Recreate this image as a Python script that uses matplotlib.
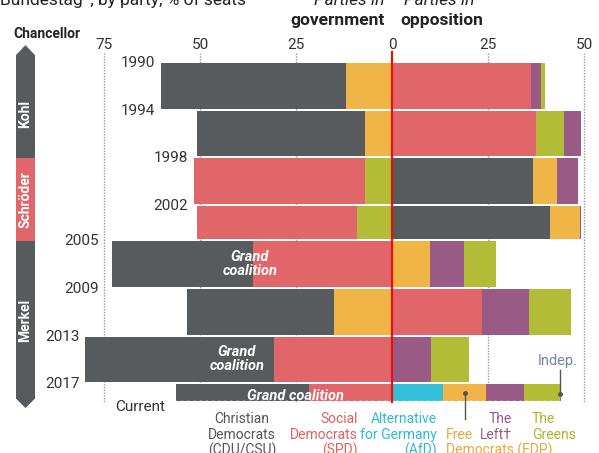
import matplotlib
matplotlib.use('Agg')
import matplotlib.pyplot as plt
import numpy as np
from matplotlib.patches import Polygon

plt.rcParams['font.family'] = ['Roboto', 'DejaVu Sans']

# ---------------- data ----------------
election_years = [1990, 1994, 1998, 2002, 2005, 2009, 2013, 2017]
period_end = [1994, 1998, 2002, 2005, 2009, 2013, 2017, 2018.6]
year_labels = ['1990', '1994', '1998', '2002', '2005', '2009', '2013', '2017']

# government parties, ordered from zero outward
gov_parties = [['FDP', 'CDU'], ['FDP', 'CDU'], ['GRN', 'SPD'], ['GRN', 'SPD'],
               ['SPD', 'CDU'], ['FDP', 'CDU'], ['SPD', 'CDU'], ['SPD', 'CDU']]
gov_shares = [[11.9, 48.2], [7.0, 43.8], [7.0, 44.5], [9.1, 41.6],
              [36.2, 36.8], [15.0, 38.4], [30.6, 49.3], [21.6, 34.7]]
# opposition parties, ordered from zero outward
opp_parties = [['SPD', 'LEFT', 'GRN'], ['SPD', 'GRN', 'LEFT'], ['CDU', 'FDP', 'LEFT'],
               ['CDU', 'FDP', 'LEFT'], ['FDP', 'LEFT', 'GRN'], ['SPD', 'LEFT', 'GRN'],
               ['LEFT', 'GRN'], ['AFD', 'FDP', 'LEFT', 'GRN', 'IND']]
opp_shares = [[36.1, 2.6, 1.2], [37.5, 7.3, 4.5], [36.6, 6.4, 5.4], [41.1, 7.8, 0.3],
              [9.9, 8.8, 8.3], [23.5, 12.2, 10.9], [10.1, 10.0],
              [13.3, 11.3, 9.7, 9.4, 0.3]]

chancellors = ['Kohl', 'Schröder', 'Merkel']
chancellor_start = [1982, 1998, 2005]
chancellor_end = [1998, 2005, 2018.6]
chancellor_party = ['CDU', 'SPD', 'CDU']

tick_values = [-75, -50, -25, 0, 25, 50]
tick_labels = ['75', '50', '25', '0', '25', '50']

colors = {'CDU': '#575b5e', 'SPD': '#e1666a', 'FDP': '#f1b547', 'GRN': '#b3bc36',
          'LEFT': '#995a86', 'AFD': '#33bfd7', 'IND': '#6d7f95'}
text_colors = {'CDU': '#555555', 'SPD': '#e0605f', 'FDP': '#e5a83a', 'GRN': '#adb52c',
               'LEFT': '#995a86', 'AFD': '#2fb9d3', 'IND': '#6f86a0'}

# ---------------- figure ----------------
fig = plt.figure(figsize=(5.99, 4.53), dpi=100)
ax = fig.add_axes([0, 0, 1, 1])
ax.set_xlim(-102.08, 53.91)
ax.set_ylim(2022.77, 1984.71)
ax.axis('off')

px_year = 1 / 11.9  # one pixel in years

grid_top, grid_bot = 1989.15, 2018.45
for t in tick_values:
    if t != 0:
        ax.plot([t, t], [grid_top, grid_bot], color='#999999', lw=1.0,
                ls=(0, (1, 1)), zorder=1)
for t, lab in zip(tick_values, tick_labels):
    ax.text(t, 1988.85, lab, ha='center', va='baseline', fontsize=11,
            color='#333333')

gap = 0.17
for i, (y0, y1) in enumerate(zip(election_years, period_end)):
    h = y1 - y0 - gap
    acc = 0.0
    for p, s in zip(gov_parties[i], gov_shares[i]):
        ax.barh(y0, -s, left=-acc, height=h, align='edge', color=colors[p],
                lw=0, zorder=2)
        acc += s
    acc = 0.0
    for p, s in zip(opp_parties[i], opp_shares[i]):
        ax.barh(y0, s, left=acc, height=h, align='edge', color=colors[p],
                lw=0, zorder=2)
        acc += s

# torn bottom edge of the current bar
cur_left = -sum(gov_shares[-1])
cur_right = sum(opp_shares[-1])
cur_bot = period_end[-1] - gap
xs = np.arange(cur_left, cur_right + 0.8, 0.8)
ys = np.where(np.arange(len(xs)) % 2 == 0, cur_bot - 0.12, cur_bot + 0.02)
ax.fill_between(xs, ys, cur_bot + 0.1, color='white', lw=0, zorder=3)

# zero line
ax.plot([0, 0], [1989.1, 2018.5], color='#e3120b', lw=1.6, zorder=5)

# year labels
gov_tot = [sum(s) for s in gov_shares]
for i, lab in enumerate(year_labels):
    ext = max(gov_tot[max(i - 1, 0)], gov_tot[i])
    xr = -ext - 1.5
    if -80 < xr < -70:
        xr = -76.4
    ax.text(xr, election_years[i], lab, ha='right', va='center', fontsize=11,
            color='#333333')
ax.text(-gov_tot[-1] - 2.8, period_end[-1] + 0.3, 'Current', ha='right',
        va='center', fontsize=11, color='#333333')

# chancellor bar
cx0, cx1 = -97.9, -93.0
top_tip, top_sh = 1988.5, 1989.33
bot_sh, bot_tip = 2018.2, 2019.0
for k, name in enumerate(chancellors):
    a = max(chancellor_start[k], top_sh)
    b = min(chancellor_end[k], bot_sh)
    col = colors[chancellor_party[k]]
    ax.add_patch(Polygon([[cx0, a], [cx1, a], [cx1, b], [cx0, b]], closed=True,
                         color=col, lw=0, zorder=2))
    if k == 0:
        ax.add_patch(Polygon([[cx0, top_sh], [(cx0 + cx1) / 2, top_tip], [cx1, top_sh]],
                             closed=True, color=col, lw=0, zorder=2))
    if k == len(chancellors) - 1:
        ax.add_patch(Polygon([[cx0, bot_sh], [(cx0 + cx1) / 2, bot_tip], [cx1, bot_sh]],
                             closed=True, color=col, lw=0, zorder=2))
    mid = (a + b) / 2
    if k == 0:
        mid += 0.6
    ax.text((cx0 + cx1) / 2, mid, name, rotation=90, ha='center', va='center',
            color='white', fontsize=10, fontweight='bold', zorder=4)

# headers
ax.text(-102.0, 1985.15, 'Bundestag*, by party, % of seats', ha='left', va='baseline',
        fontsize=12.5, color='#222222')
ax.text(-89.8, 1987.55, 'Chancellor', ha='center', va='center', fontsize=10,
        fontweight='bold', color='#222222')
ax.text(-2.0, 1985.15, 'Parties in', ha='right', va='baseline', fontsize=12.5,
        style='italic', color='#222222')
ax.text(3.0, 1985.15, 'Parties in', ha='left', va='baseline', fontsize=12.5,
        style='italic', color='#222222')
ax.text(-1.8, 1986.8, 'government', ha='right', va='baseline', fontsize=12.5,
        fontweight='bold', color='#222222')
ax.text(2.2, 1986.8, 'opposition', ha='left', va='baseline', fontsize=12.5,
        fontweight='bold', color='#222222')

# grand coalition labels
gc_kw = dict(ha='center', va='center', color='white', fontsize=10.5,
             style='italic', fontweight='bold', zorder=6, linespacing=1.0)
ax.text(-37.0, 2006.9, 'Grand\ncoalition', **gc_kw)
ax.text(-40.4, 2014.9, 'Grand\ncoalition', **gc_kw)
ax.text(-25.0, 2018.0, 'Grand coalition', **gc_kw)

# party legend labels, line by line
base = 2020.25
step = 16 * px_year


def stacked(x, lines, ha, color, first=0):
    for j, line in enumerate(lines):
        if line:
            ax.text(x, base + (first + j) * step, line, ha=ha, va='baseline',
                    fontsize=10, color=color)


stacked(-39.0, ['Christian', 'Democrats', '(CDU/CSU)'], 'center', text_colors['CDU'])
stacked(-8.8, ['Social', 'Democrats', '(SPD)'], 'right', text_colors['SPD'])
stacked(11.7, ['Alternative', 'for Germany', '(AfD)'], 'right', text_colors['AFD'])
stacked(14.0, ['Free', 'Democrats (FDP)'], 'left', text_colors['FDP'], first=1)
stacked(31.3, ['The', 'Left\u2020'], 'right', text_colors['LEFT'])
stacked(36.5, ['The', 'Greens'], 'left', text_colors['GRN'])
ax.text(43.2, 2015.35, 'Indep.', ha='center', va='baseline', fontsize=10.5,
        color=text_colors['IND'])

# pointers
fdp_x = opp_shares[-1][0] + opp_shares[-1][1] / 2
ax.plot([fdp_x, fdp_x], [2017.7, 2019.95], color='#555555', lw=1.0, zorder=7)
ax.plot([fdp_x], [2017.7], 'o', color='#555555', ms=2.5, zorder=7)
ind_x = sum(opp_shares[-1][:-1]) + opp_shares[-1][-1] / 2
ax.plot([ind_x, ind_x], [2015.8, 2017.8], color='#555555', lw=1.0, zorder=7)
ax.plot([ind_x], [2017.8], 'o', color='#555555', ms=2.5, zorder=7)

fig.savefig('out.png', dpi=100)
